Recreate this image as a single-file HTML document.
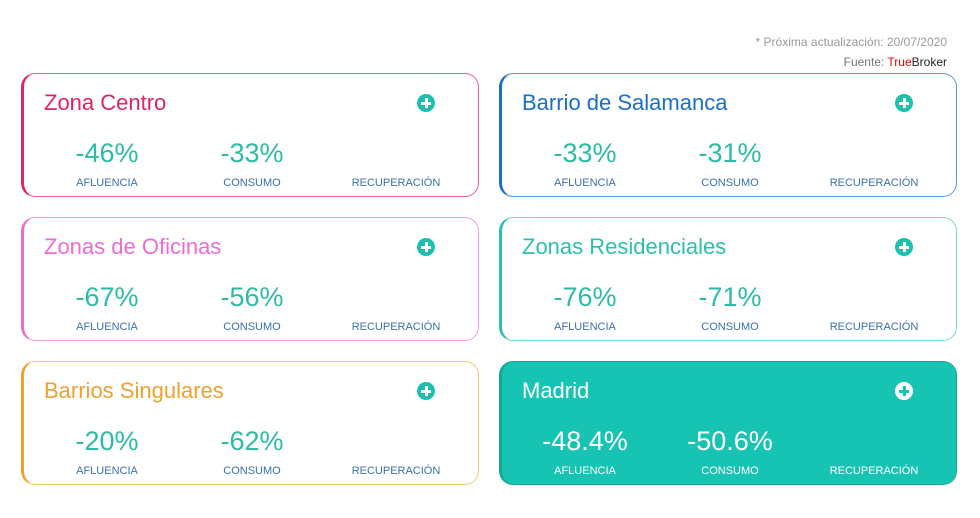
<!DOCTYPE html>
<html><head><style>
body{margin:0;width:980px;height:518px;background:#fff;font-family:"Liberation Sans",Arial,sans-serif;position:relative;overflow:hidden}
.note{position:absolute;right:33px;font-size:12px;color:#999}
.card{position:absolute;width:458px;height:124px;border:1px solid;border-left-width:3px;border-radius:14px;box-sizing:border-box;background:#fff}
.t{position:absolute;left:20px;top:16px;font-size:22px}
.plus{position:absolute;left:393px;top:20px;width:18px;height:18px;border-radius:50%;background:#1fbfad}
.plus:before{content:"";position:absolute;left:4px;top:7.5px;width:10px;height:3px;background:#fff}
.plus:after{content:"";position:absolute;left:7.5px;top:4px;width:3px;height:10px;background:#fff}
.v{position:absolute;top:64px;width:140px;text-align:center;font-size:27px;color:#2bbba6}
.l{position:absolute;top:103px;width:140px;text-align:center;font-size:11px;color:#3a6fad}
.c1{left:13px}.c2{left:158px}.c3{left:302px}
.mad{background:#17c3b3;border-color:#12a898}
.mad .t,.mad .v,.mad .l{color:#fff}
.mad .plus{background:#fff}
.mad .plus:before,.mad .plus:after{background:#17c3b3}
</style></head><body>
<div class="note" style="top:35px">* Próxima actualización: 20/07/2020</div>
<div class="note" style="top:55px;color:#777">Fuente: <span style="color:#e00">True</span><span style="color:#222">Broker</span></div>

<div class="card" style="left:21px;top:73px;border-color:#e8628a;border-left-color:#e0245e"><div class="t" style="color:#e0245e">Zona Centro</div><div class="plus"></div>
<div class="v c1">-46%</div><div class="v c2">-33%</div><div class="l c1">AFLUENCIA</div><div class="l c2">CONSUMO</div><div class="l c3">RECUPERACIÓN</div></div>

<div class="card" style="left:499px;top:73px;border-color:#5a9ad8;border-left-color:#1a6fc4"><div class="t" style="color:#1a6fc4">Barrio de Salamanca</div><div class="plus"></div>
<div class="v c1">-33%</div><div class="v c2">-31%</div><div class="l c1">AFLUENCIA</div><div class="l c2">CONSUMO</div><div class="l c3">RECUPERACIÓN</div></div>

<div class="card" style="left:21px;top:217px;border-color:#f29be6;border-left-color:#ee6ad6"><div class="t" style="color:#ee6ad6">Zonas de Oficinas</div><div class="plus"></div>
<div class="v c1">-67%</div><div class="v c2">-56%</div><div class="l c1">AFLUENCIA</div><div class="l c2">CONSUMO</div><div class="l c3">RECUPERACIÓN</div></div>

<div class="card" style="left:499px;top:217px;border-color:#7ad8cc;border-left-color:#2bbfae"><div class="t" style="color:#2bbfae">Zonas Residenciales</div><div class="plus"></div>
<div class="v c1">-76%</div><div class="v c2">-71%</div><div class="l c1">AFLUENCIA</div><div class="l c2">CONSUMO</div><div class="l c3">RECUPERACIÓN</div></div>

<div class="card" style="left:21px;top:361px;border-color:#f5c47a;border-left-color:#f0a030"><div class="t" style="color:#f0a030">Barrios Singulares</div><div class="plus"></div>
<div class="v c1">-20%</div><div class="v c2">-62%</div><div class="l c1">AFLUENCIA</div><div class="l c2">CONSUMO</div><div class="l c3">RECUPERACIÓN</div></div>

<div class="card mad" style="left:499px;top:361px"><div class="t">Madrid</div><div class="plus"></div>
<div class="v c1">-48.4%</div><div class="v c2">-50.6%</div><div class="l c1">AFLUENCIA</div><div class="l c2">CONSUMO</div><div class="l c3">RECUPERACIÓN</div></div>
</body></html>
